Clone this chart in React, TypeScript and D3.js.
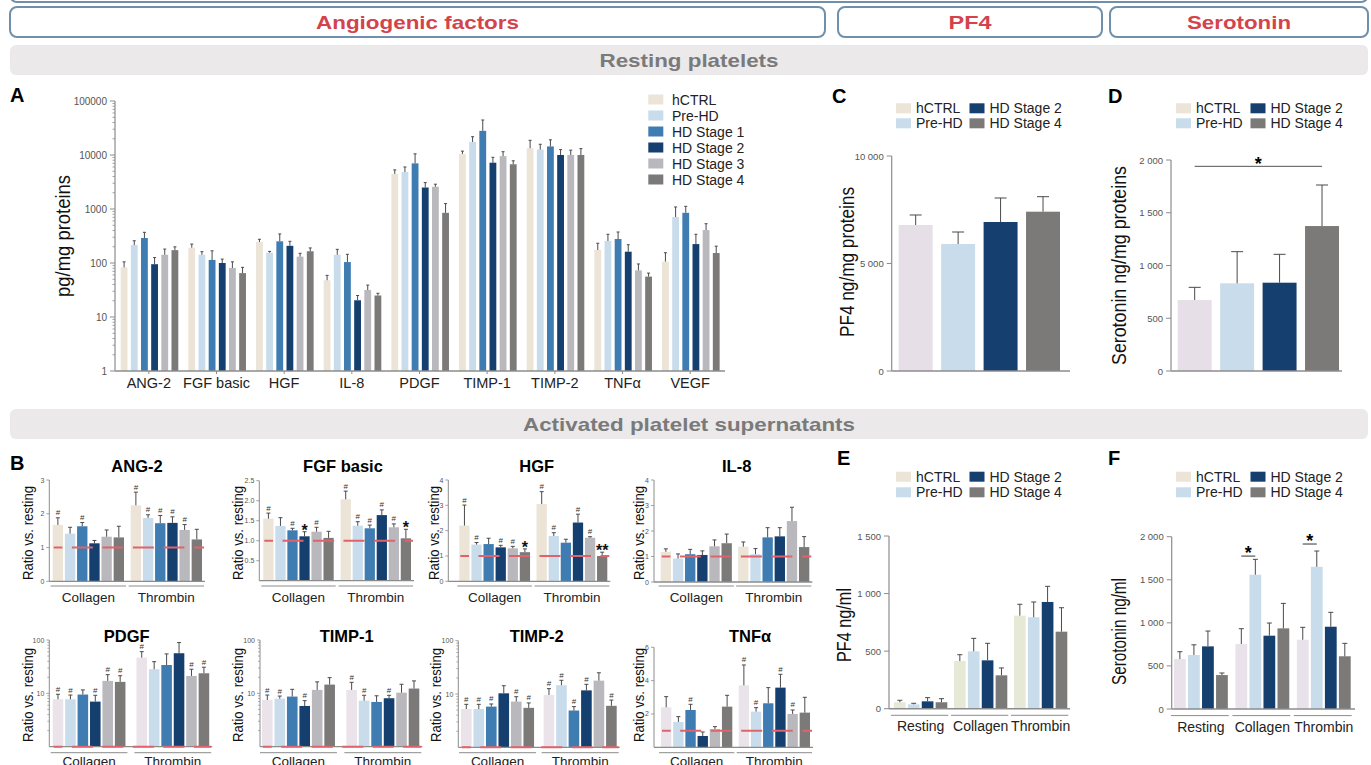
import React from "react";
import * as d3 from "d3";

const FONT = "'Liberation Sans', Arial, Helvetica, sans-serif";
const AXIS = "#8c8c8c";
const TICKTXT = "#555";
const ERR = "#4a4a4a";
const RED = "#e0636b";

// ---------- DATA ----------
const seriesAll = ["hCTRL", "Pre-HD", "HD Stage 1", "HD Stage 2", "HD Stage 3", "HD Stage 4"];
const series4 = ["hCTRL", "Pre-HD", "HD Stage 2", "HD Stage 4"];

// Panel A (resting platelets, pg/mg proteins, log)
const factorsA = ["ANG-2", "FGF basic", "HGF", "IL-8", "PDGF", "TIMP-1", "TIMP-2", "TNFα", "VEGF"];
const ticksA = [1, 10, 100, 1000, 10000, 100000];
const restingMeanA = [
  [83, 215, 290, 95, 142, 173],
  [192, 142, 114, 100, 81, 65],
  [245, 155, 252, 208, 131, 165],
  [48, 142, 104, 20.4, 31.6, 25],
  [4450, 4840, 7000, 2500, 2580, 850],
  [10450, 17400, 28000, 7200, 9530, 6740],
  [13300, 12600, 14400, 10000, 10000, 10000],
  [174, 255, 278, 162, 73, 56],
  [106, 710, 850, 224, 407, 153],
];
const restingErrA = [
  [105, 258, 370, 126, 181, 199],
  [224, 162, 168, 118, 105, 83],
  [275, 164, 345, 252, 151, 190],
  [59, 179, 145, 25, 39, 27.5],
  [5300, 6000, 10500, 3080, 2880, 1260],
  [11800, 21800, 44500, 9070, 11500, 7800],
  [18700, 15800, 19100, 12600, 12300, 13100],
  [232, 340, 375, 218, 96, 65],
  [155, 1090, 1120, 340, 534, 205],
];

// Panel C / D
const pf4Resting = [6790, 5907, 6930, 7410];
const pf4RestingErr = [7256, 6465, 8047, 8107];
const pf4Ticks = [0, 5000, 10000];
const seroResting = [673, 831, 837, 1374];
const seroRestingErr = [793, 1131, 1106, 1763];
const seroTicks = [0, 500, 1000, 1500, 2000];
const seroRestingSigLevel = 1940;

// Panel E / F
const conditionsEF = ["Resting", "Collagen", "Thrombin"];
const pf4ActMean = [[56, 38, 64, 56], [414, 498, 420, 290], [808, 794, 927, 669]];
const pf4ActErr = [[73, 47, 96, 87], [469, 611, 568, 354], [907, 927, 1063, 877]];
const pf4ActTicks = [0, 500, 1000, 1500];
const seroActMean = [[580, 627, 727, 394], [754, 1559, 851, 936], [804, 1651, 955, 612]];
const seroActErr = [[665, 745, 905, 418], [932, 1737, 998, 1226], [948, 1834, 1122, 762]];
const seroActTicks = [0, 500, 1000, 1500, 2000];
const seroActSig = ["", "*", "*"];
const seroActSigLevel = [0, 1775, 1915];

// Panel B (ratio vs resting)
const stimuli = ["Collagen", "Thrombin"];
const ratioFactors = ["ANG-2", "FGF basic", "HGF", "IL-8", "PDGF", "TIMP-1", "TIMP-2", "TNFα"];
const ratioCollagenMean = [
  [1.67, 1.41, 1.63, 1.125, 1.32, 1.3],
  [1.55, 1.37, 1.26, 1.11, 1.225, 1.07],
  [2.2, 1.45, 1.47, 1.34, 1.3, 1.15],
  [1.18, 0.92, 1.09, 1.06, 1.4, 1.52],
  [7.75, 7.75, 9.5, 7.0, 17.1, 16.4],
  [7.5, 7.95, 8.7, 5.8, 11.6, 14.6],
  [5.23, 5.23, 5.8, 10.3, 7.2, 5.5],
  [2.4, 1.52, 2.24, 0.68, 1.1, 2.44],
];
const ratioCollagenErr = [
  [1.88, 1.6, 1.74, 1.21, 1.52, 1.63],
  [1.69, 1.575, 1.31, 1.225, 1.335, 1.235],
  [3.01, 1.53, 1.7, 1.42, 1.38, 1.28],
  [1.3, 1.1, 1.28, 1.22, 1.65, 1.88],
  [9.6, 9.3, 11.6, 9.2, 22.4, 21.4],
  [9.3, 8.9, 11.9, 7.3, 16.4, 19.7],
  [6.4, 6.4, 6.5, 14.3, 8.9, 6.8],
  [3.04, 1.84, 2.58, 0.92, 1.24, 3.12],
];
const ratioThrombinMean = [
  [2.25, 1.875, 1.72, 1.73, 1.52, 1.24],
  [2.035, 1.375, 1.31, 1.64, 1.335, 1.06],
  [3.05, 1.79, 1.525, 2.32, 1.72, 1.0],
  [1.385, 1.09, 1.75, 1.79, 2.39, 1.37],
  [46.7, 28.3, 34, 56.5, 21.2, 23.8],
  [11.6, 7.3, 6.9, 8.1, 10.3, 12.3],
  [9.6, 14.6, 4.9, 11.7, 17.8, 6.0],
  [3.72, 2.14, 2.64, 3.58, 2.0, 2.08],
];
const ratioThrombinErr = [
  [2.64, 1.97, 1.95, 1.91, 1.68, 1.54],
  [2.24, 1.475, 1.39, 1.77, 1.42, 1.285],
  [3.54, 1.92, 1.66, 2.65, 1.76, 1.15],
  [1.57, 1.31, 2.13, 2.13, 2.93, 1.78],
  [60.5, 39.2, 54.8, 89.5, 28.3, 30.9],
  [16.1, 9.2, 9.0, 9.2, 14.8, 17.1],
  [12.6, 18.1, 5.8, 15.2, 25, 7.7],
  [4.94, 2.38, 3.58, 4.38, 2.24, 3.0],
];
const ratioCollagenMarks = [
  ["#", "", "#", "", "", ""],
  ["#", "", "#", "*", "#", ""],
  ["#", "#", "", "#", "#", "*"],
  ["", "", "", "", "", ""],
  ["#", "#", "", "#", "#", "#"],
  ["#", "#", "", "#", "", ""],
  ["#", "#", "#", "", "#", "#"],
  ["", "", "#", "", "", ""],
];
const ratioThrombinMarks = [
  ["#", "#", "#", "#", "#", ""],
  ["#", "#", "#", "#", "#", "*"],
  ["#", "#", "", "#", "#", "**"],
  ["", "", "", "", "", ""],
  ["#", "", "", "", "#", "#"],
  ["#", "#", "", "#", "", ""],
  ["#", "#", "#", "#", "", "#"],
  ["#", "#", "", "#", "#", ""],
];
const ratioTicks = [
  [0, 1, 2, 3],
  [0.5, 1, 1.5, 2, 2.5],
  [0, 1, 2, 3, 4],
  [0, 1, 2, 3, 4],
  [10, 100],
  [10, 100],
  [10, 100],
  [2, 4, 6],
];

// ---------- STYLE / LAYOUT ----------
const COLORS: Record<string, string> = {
  hCTRL: "#ebe4d7",
  "Pre-HD": "#c8dcec",
  "HD Stage 1": "#3e7cb1",
  "HD Stage 2": "#153f6f",
  "HD Stage 3": "#b9b8bc",
  "HD Stage 4": "#7c7979",
};
const colorOf = (s: string, hctrl?: string) => (s === "hCTRL" && hctrl ? hctrl : COLORS[s]);

const spaceFmt = d3.formatLocale({ decimal: ".", thousands: " ", grouping: [3], currency: ["", ""] }).format(",");

const ratioLayout = [
  { axisX: 49.3, x0: 52.7, x1: 202, gap: 6.7, yTop: 480, y0: 581.3, max: 3, log: false, titleX: 137, labelX: 27, row: 0, fmt: "d" },
  { axisX: 259.3, x0: 263.3, x1: 411, gap: 6.9, yTop: 480.7, y0: 580.7, max: 2.5, log: false, titleX: 343, labelX: 237, row: 0, fmt: ".1f" },
  { axisX: 448.3, x0: 459.3, x1: 607.3, gap: 6.5, yTop: 480, y0: 581.3, max: 4, log: false, titleX: 536.7, labelX: 433, row: 0, fmt: "d" },
  { axisX: 654, x0: 660.7, x1: 809.3, gap: 6.3, yTop: 480, y0: 582, max: 4, log: false, titleX: 736.7, labelX: 638, row: 0, fmt: "d" },
  { axisX: 49.3, x0: 52.7, x1: 209.2, gap: 11, yTop: 640, y0: 746.7, max: 100, log: true, titleX: 126.7, labelX: 27, row: 1, fmt: "d" },
  { axisX: 260, x0: 262, x1: 419.3, gap: 11.4, yTop: 640, y0: 746.7, max: 100, log: true, titleX: 346.7, labelX: 237, row: 1, fmt: "d" },
  { axisX: 458.3, x0: 461, x1: 616.7, gap: 9.6, yTop: 640.7, y0: 747.3, max: 100, log: true, titleX: 536.7, labelX: 435, row: 1, fmt: "d" },
  { axisX: 654, x0: 661, x1: 810, gap: 6.4, yTop: 647.3, y0: 747.3, max: 6, log: false, titleX: 750, labelX: 638, row: 1, fmt: "d" },
];
const rowStyle = [
  { titleY: 471.7, underlineY: 586, groupLabelY: 601.5, ylabelY: 533, hctrl: "#ece4d6" },
  { titleY: 641.7, underlineY: 752.7, groupLabelY: 766, ylabelY: 695, hctrl: "#ebe3ea" },
];

// ---------- HELPERS ----------
function ErrBar({ x, yFrom, yTo, cap = 3 }: { x: number; yFrom: number; yTo: number; cap?: number }) {
  return (
    <g stroke={ERR} strokeWidth={1}>
      <line x1={x} x2={x} y1={yFrom} y2={yTo} />
      <line x1={x - cap / 2} x2={x + cap / 2} y1={yTo} y2={yTo} />
    </g>
  );
}

function RotLabel({ x, y, text, size, length }: { x: number; y: number; text: string; size: number; length: number }) {
  return (
    <text
      transform={`translate(${x},${y}) rotate(-90)`}
      textAnchor="middle"
      dominantBaseline="central"
      fontSize={size}
      textLength={length}
      lengthAdjust="spacingAndGlyphs"
      fill="#111"
    >
      {text}
    </text>
  );
}

function Legend4({ x1, x2, yRow1, yRow2 }: { x1: number; x2: number; yRow1: number; yRow2: number }) {
  const pos = [
    [x1, yRow1],
    [x1, yRow2],
    [x2, yRow1],
    [x2, yRow2],
  ];
  return (
    <g>
      {series4.map((s, i) => (
        <g key={s}>
          <rect x={pos[i][0]} y={pos[i][1] - 5} width={15} height={10} fill={COLORS[s]} />
          <text x={pos[i][0] + 20} y={pos[i][1] + 5} fontSize={14} fill="#222">
            {s}
          </text>
        </g>
      ))}
    </g>
  );
}

// ---------- HEADER ----------
function Header() {
  const boxes = [
    { x0: 10, x1: 825, label: "Angiogenic factors", len: 203 },
    { x0: 838, x1: 1102, label: "PF4", len: 43 },
    { x0: 1110, x1: 1368, label: "Serotonin", len: 104 },
  ];
  const bands = [
    { y: 45, label: "Resting platelets", len: 179 },
    { y: 409, label: "Activated platelet supernatants", len: 332 },
  ];
  return (
    <g>
      <rect x={10} y={-26} width={1358} height={28} rx={7} fill="none" stroke="#6f8fab" strokeWidth={2} />
      {boxes.map((b) => (
        <g key={b.label}>
          <rect x={b.x0} y={7} width={b.x1 - b.x0} height={30} rx={7} fill="#fff" stroke="#6f8fab" strokeWidth={2} />
          <text
            x={(b.x0 + b.x1) / 2}
            y={29}
            textAnchor="middle"
            fontSize={19}
            fontWeight="bold"
            fill="#d4434c"
            textLength={b.len}
            lengthAdjust="spacingAndGlyphs"
          >
            {b.label}
          </text>
        </g>
      ))}
      {bands.map((b) => (
        <g key={b.label}>
          <rect x={10} y={b.y} width={1358} height={30} rx={6} fill="#ebe9ea" />
          <text
            x={689}
            y={b.y + 22}
            textAnchor="middle"
            fontSize={19}
            fontWeight="bold"
            fill="#7a7a7a"
            textLength={b.len}
            lengthAdjust="spacingAndGlyphs"
          >
            {b.label}
          </text>
        </g>
      ))}
    </g>
  );
}

// ---------- PANEL A ----------
function PanelA() {
  const axisX = 115;
  const y0 = 371;
  const y = d3.scaleLog().domain([1, 100000]).range([y0, 101]);
  const xg = d3.scaleBand<string>().domain(factorsA).range([115, 724]).padding(0);
  const xi = d3.scaleBand<string>().domain(seriesAll).range([5.7, 63.3]).paddingInner(0.33).paddingOuter(0);
  const minor: number[] = [];
  for (let d = 1; d < 100000; d *= 10) for (let k = 2; k <= 9; k++) minor.push(d * k);
  return (
    <g>
      <text x={10} y={102} fontSize={20} fontWeight="bold">A</text>
      <RotLabel x={62.5} y={236} text="pg/mg proteins" size={21} length={122} />
      {restingMeanA.map((row, i) =>
        row.map((v, j) => {
          const s = seriesAll[j];
          const x = (xg(factorsA[i]) as number) + (xi(s) as number);
          return <rect key={`${i}-${j}`} x={x} y={y(v)} width={xi.bandwidth()} height={y0 - y(v)} fill={colorOf(s)} />;
        })
      )}
      {restingErrA.map((row, i) =>
        row.map((e, j) => {
          const s = seriesAll[j];
          const cx = (xg(factorsA[i]) as number) + (xi(s) as number) + xi.bandwidth() / 2;
          return <ErrBar key={`e${i}-${j}`} x={cx} yFrom={y(restingMeanA[i][j])} yTo={y(e)} cap={3} />;
        })
      )}
      <line x1={axisX} x2={axisX} y1={y(100000)} y2={y0} stroke={AXIS} strokeWidth={1.2} />
      <line x1={axisX} x2={725} y1={y0} y2={y0} stroke={AXIS} strokeWidth={1.5} />
      {minor.map((m) => (
        <line key={m} x1={axisX - 2.5} x2={axisX} y1={y(m)} y2={y(m)} stroke={AXIS} strokeWidth={0.8} />
      ))}
      {ticksA.map((t) => (
        <g key={t}>
          <line x1={axisX - 5} x2={axisX} y1={y(t)} y2={y(t)} stroke={AXIS} strokeWidth={1} />
          <text x={axisX - 8} y={y(t) + 3.5} fontSize={10} textAnchor="end" fill={TICKTXT}>
            {d3.format("d")(t)}
          </text>
        </g>
      ))}
      {factorsA.map((f) => {
        const cx = (xg(f) as number) + xg.bandwidth() / 2;
        return (
          <g key={f}>
            <line x1={cx} x2={cx} y1={y0} y2={y0 + 3} stroke={AXIS} />
            <text x={cx} y={y0 + 17} fontSize={14.5} textAnchor="middle" fill="#222">
              {f}
            </text>
          </g>
        );
      })}
      {seriesAll.map((s, j) => (
        <g key={s}>
          <rect x={648.3} y={94.5 + j * 16} width={15} height={10} fill={COLORS[s]} />
          <text x={672} y={104.5 + j * 16} fontSize={14} fill="#222">
            {s}
          </text>
        </g>
      ))}
    </g>
  );
}

// ---------- PANELS C / D ----------
function SimpleBars(props: {
  letter: string; letterX: number; axisX: number; axisEnd: number; yTop: number; y0: number; max: number;
  ticks: number[]; means: number[]; errs: number[]; barX0: number; barX1: number; hctrl: string;
  ylabel: string; ylabelX: number; ylabelY: number; ylabelLen: number; legX1: number; legX2: number; sigLevel?: number;
}) {
  const p = props;
  const y = d3.scaleLinear().domain([0, p.max]).range([p.y0, p.yTop]);
  const x = d3.scaleBand<string>().domain(series4).range([p.barX0, p.barX1]).paddingInner(0.2).paddingOuter(0);
  return (
    <g>
      <text x={p.letterX} y={103} fontSize={20} fontWeight="bold">{p.letter}</text>
      <Legend4 x1={p.legX1} x2={p.legX2} yRow1={108.3} yRow2={123.3} />
      <RotLabel x={p.ylabelX} y={p.ylabelY} text={p.ylabel} size={21} length={p.ylabelLen} />
      {p.means.map((v, i) => (
        <rect key={i} x={x(series4[i])} y={y(v)} width={x.bandwidth()} height={p.y0 - y(v)} fill={colorOf(series4[i], p.hctrl)} />
      ))}
      {p.errs.map((e, i) => (
        <ErrBar key={i} x={(x(series4[i]) as number) + x.bandwidth() / 2} yFrom={y(p.means[i])} yTo={y(e)} cap={12} />
      ))}
      <line x1={p.axisX} x2={p.axisX} y1={p.yTop} y2={p.y0} stroke={AXIS} strokeWidth={1.2} />
      <line x1={p.axisX} x2={p.axisEnd} y1={p.y0} y2={p.y0} stroke={AXIS} strokeWidth={1.5} />
      {p.ticks.map((t) => (
        <g key={t}>
          <line x1={p.axisX - 5} x2={p.axisX} y1={y(t)} y2={y(t)} stroke={AXIS} />
          <text x={p.axisX - 8} y={y(t) + 3.5} fontSize={9.5} textAnchor="end" fill={TICKTXT}>
            {spaceFmt(t)}
          </text>
        </g>
      ))}
      {p.sigLevel !== undefined && (
        <g>
          <line
            x1={(x(series4[0]) as number) + x.bandwidth() / 2}
            x2={(x(series4[3]) as number) + x.bandwidth() / 2}
            y1={y(p.sigLevel)}
            y2={y(p.sigLevel)}
            stroke="#555"
            strokeWidth={1}
          />
          <text
            x={((x(series4[0]) as number) + (x(series4[3]) as number) + x.bandwidth()) / 2}
            y={y(p.sigLevel) + 4}
            fontSize={18}
            fontWeight="bold"
            textAnchor="middle"
          >
            *
          </text>
        </g>
      )}
    </g>
  );
}

// ---------- PANELS E / F ----------
function GroupedBars(props: {
  letter: string; letterX: number; axisX: number; axisEnd: number; yTop: number; y0: number; max: number;
  ticks: number[]; means: number[][]; errs: number[][]; x0: number; x1: number; gap: number; hctrl: string;
  ylabel: string; ylabelX: number; ylabelY: number; ylabelLen: number; legX1: number; legX2: number;
  sig?: string[]; sigLevel?: number[];
}) {
  const p = props;
  const y = d3.scaleLinear().domain([0, p.max]).range([p.y0, p.yTop]);
  const step = (p.x1 - p.x0 + p.gap) / 3;
  const xg = d3.scaleBand<string>().domain(conditionsEF).range([p.x0, p.x1]).paddingInner(p.gap / step).paddingOuter(0);
  const xi = d3.scaleBand<string>().domain(series4).range([0, xg.bandwidth()]).paddingInner(0.16).paddingOuter(0);
  return (
    <g>
      <text x={p.letterX} y={465} fontSize={20} fontWeight="bold">{p.letter}</text>
      <Legend4 x1={p.legX1} x2={p.legX2} yRow1={476.7} yRow2={492.3} />
      <RotLabel x={p.ylabelX} y={p.ylabelY} text={p.ylabel} size={21} length={p.ylabelLen} />
      {p.means.map((row, g) =>
        row.map((v, i) => (
          <rect
            key={`${g}-${i}`}
            x={(xg(conditionsEF[g]) as number) + (xi(series4[i]) as number)}
            y={y(v)}
            width={xi.bandwidth()}
            height={p.y0 - y(v)}
            fill={colorOf(series4[i], p.hctrl)}
          />
        ))
      )}
      {p.errs.map((row, g) =>
        row.map((e, i) => (
          <ErrBar
            key={`${g}-${i}`}
            x={(xg(conditionsEF[g]) as number) + (xi(series4[i]) as number) + xi.bandwidth() / 2}
            yFrom={y(p.means[g][i])}
            yTo={y(e)}
            cap={5}
          />
        ))
      )}
      <line x1={p.axisX} x2={p.axisX} y1={p.yTop} y2={p.y0} stroke={AXIS} strokeWidth={1.2} />
      <line x1={p.axisX} x2={p.axisEnd} y1={p.y0} y2={p.y0} stroke={AXIS} strokeWidth={1.5} />
      {p.ticks.map((t) => (
        <g key={t}>
          <line x1={p.axisX - 5} x2={p.axisX} y1={y(t)} y2={y(t)} stroke={AXIS} />
          <text x={p.axisX - 8} y={y(t) + 3.5} fontSize={9.5} textAnchor="end" fill={TICKTXT}>
            {spaceFmt(t)}
          </text>
        </g>
      ))}
      {conditionsEF.map((c) => {
        const gx = xg(c) as number;
        return (
          <g key={c}>
            <line x1={gx - 3} x2={gx + xg.bandwidth() + 1} y1={p.y0 + 6.6} y2={p.y0 + 6.6} stroke={AXIS} strokeWidth={1} />
            <text x={gx + xg.bandwidth() / 2} y={p.y0 + 22.5} fontSize={14} textAnchor="middle" fill="#222">
              {c}
            </text>
          </g>
        );
      })}
      {p.sig &&
        p.sig.map((s, g) => {
          if (!s || !p.sigLevel) return null;
          const gx = xg(conditionsEF[g]) as number;
          const a = gx + (xi(series4[0]) as number) + xi.bandwidth() / 2;
          const b = gx + (xi(series4[1]) as number) + xi.bandwidth() / 2;
          const ly = y(p.sigLevel[g]);
          return (
            <g key={g}>
              <line x1={a} x2={b} y1={ly} y2={ly} stroke="#333" strokeWidth={1} />
              <text x={(a + b) / 2} y={ly + 3} fontSize={18} fontWeight="bold" textAnchor="middle">
                {s}
              </text>
            </g>
          );
        })}
    </g>
  );
}

// ---------- PANEL B ----------
function RatioPanel({ idx }: { idx: number }) {
  const L = ratioLayout[idx];
  const R = rowStyle[L.row];
  const y = L.log
    ? d3.scaleLog().domain([1, 100]).range([L.y0, L.yTop])
    : d3.scaleLinear().domain([0, L.max]).range([L.y0, L.yTop]);
  const base = L.log ? 1 : 0;
  const step = (L.x1 - L.x0 + L.gap) / 2;
  const xg = d3.scaleBand<string>().domain(stimuli).range([L.x0, L.x1]).paddingInner(L.gap / step).paddingOuter(0);
  const xi = d3.scaleBand<string>().domain(seriesAll).range([0, xg.bandwidth()]).paddingInner(0.15).paddingOuter(0);
  const groups = [
    { stim: stimuli[0], means: ratioCollagenMean[idx], errs: ratioCollagenErr[idx], marks: ratioCollagenMarks[idx] },
    { stim: stimuli[1], means: ratioThrombinMean[idx], errs: ratioThrombinErr[idx], marks: ratioThrombinMarks[idx] },
  ];
  const minor: number[] = [];
  if (L.log) for (let d = 1; d < 100; d *= 10) for (let k = 2; k <= 9; k++) minor.push(d * k);
  const fmt = d3.format(L.fmt);
  const redY = y(1);
  return (
    <g>
      <text x={L.titleX} y={R.titleY} fontSize={16.5} fontWeight="bold" textAnchor="middle">
        {ratioFactors[idx]}
      </text>
      <RotLabel x={L.labelX} y={R.ylabelY} text="Ratio vs. resting" size={15.5} length={94} />
      {groups.map((g) =>
        g.means.map((v, j) => (
          <rect
            key={`${g.stim}-${j}`}
            x={(xg(g.stim) as number) + (xi(seriesAll[j]) as number)}
            y={y(v)}
            width={xi.bandwidth()}
            height={y(base) - y(v)}
            fill={colorOf(seriesAll[j], R.hctrl)}
          />
        ))
      )}
      {groups.map((g) =>
        g.errs.map((e, j) => (
          <ErrBar
            key={`e${g.stim}-${j}`}
            x={(xg(g.stim) as number) + (xi(seriesAll[j]) as number) + xi.bandwidth() / 2}
            yFrom={y(g.means[j])}
            yTo={y(e)}
            cap={4}
          />
        ))
      )}
      <line x1={L.axisX} x2={L.axisX} y1={L.yTop} y2={L.y0} stroke={AXIS} strokeWidth={1} />
      <line x1={L.axisX} x2={L.x1 + 3} y1={L.y0} y2={L.y0} stroke={AXIS} strokeWidth={1.3} />
      {minor.map((m) => (
        <line key={m} x1={L.axisX - 2} x2={L.axisX} y1={y(m)} y2={y(m)} stroke={AXIS} strokeWidth={0.7} />
      ))}
      {ratioTicks[idx].map((t) => (
        <g key={t}>
          <line x1={L.axisX - 3} x2={L.axisX} y1={y(t)} y2={y(t)} stroke={AXIS} strokeWidth={0.8} />
          <text x={L.axisX - 5} y={y(t) + 2.5} fontSize={7} textAnchor="end" fill={TICKTXT}>
            {fmt(t)}
          </text>
        </g>
      ))}
      <line
        x1={L.x0 + 1}
        x2={L.x1 + 2}
        y1={redY}
        y2={redY}
        stroke={RED}
        strokeWidth={2}
        strokeDasharray="21 9.5"
        strokeDashoffset={12.3}
      />
      {groups.map((g) =>
        g.marks.map((m, j) => {
          if (!m) return null;
          const cx = (xg(g.stim) as number) + (xi(seriesAll[j]) as number) + xi.bandwidth() / 2;
          const ey = y(g.errs[j]);
          return m === "#" ? (
            <text key={`m${g.stim}-${j}`} x={cx} y={ey - 2.5} fontSize={8} textAnchor="middle" fill="#333">
              #
            </text>
          ) : (
            <text key={`m${g.stim}-${j}`} x={cx} y={ey + 4} fontSize={16} fontWeight="bold" textAnchor="middle" fill="#111">
              {m}
            </text>
          );
        })
      )}
      {stimuli.map((s) => {
        const gx = xg(s) as number;
        return (
          <g key={s}>
            <line x1={gx - 2} x2={gx + xg.bandwidth() + 2} y1={R.underlineY} y2={R.underlineY} stroke={AXIS} strokeWidth={1} />
            <text x={gx + xg.bandwidth() / 2} y={R.groupLabelY} fontSize={13.5} textAnchor="middle" fill="#222">
              {s}
            </text>
          </g>
        );
      })}
    </g>
  );
}

export default function App() {
  return (
    <svg
      width={1371}
      height={765}
      style={{ position: "absolute", left: 0, top: 0, background: "#fff" }}
      fontFamily={FONT}
    >
      <rect width={1371} height={765} fill="#fff" />
      <Header />
      <PanelA />
      <SimpleBars
        letter="C" letterX={832} axisX={891.7} axisEnd={1070} yTop={156} y0={371} max={10000}
        ticks={pf4Ticks} means={pf4Resting} errs={pf4RestingErr} barX0={898.7} barX1={1060} hctrl="#e6dfe8"
        ylabel="PF4 ng/mg proteins" ylabelX={846} ylabelY={262} ylabelLen={150} legX1={896} legX2={969.5}
      />
      <SimpleBars
        letter="D" letterX={1108} axisX={1171} axisEnd={1342} yTop={160} y0={371} max={2000}
        ticks={seroTicks} means={seroResting} errs={seroRestingErr} barX0={1177.7} barX1={1339} hctrl="#e6dfe8"
        ylabel="Serotonin ng/mg proteins" ylabelX={1118} ylabelY={265.5} ylabelLen={199} legX1={1176} legX2={1250.5}
        sigLevel={seroRestingSigLevel}
      />
      <text x={10} y={470} fontSize={20} fontWeight="bold">B</text>
      {ratioFactors.map((_, i) => (
        <RatioPanel key={i} idx={i} />
      ))}
      <GroupedBars
        letter="E" letterX={837} axisX={889} axisEnd={1070} yTop={536} y0={708.7} max={1500}
        ticks={pf4ActTicks} means={pf4ActMean} errs={pf4ActErr} x0={894} x1={1067.3} gap={6.7} hctrl="#e5e9d5"
        ylabel="PF4 ng/ml" ylabelX={843} ylabelY={625} ylabelLen={74} legX1={896} legX2={969.5}
      />
      <GroupedBars
        letter="F" letterX={1108} axisX={1171.7} axisEnd={1355} yTop={536.7} y0={709} max={2000}
        ticks={seroActTicks} means={seroActMean} errs={seroActErr} x0={1174} x1={1350.7} gap={7.6} hctrl="#e9e2ea"
        ylabel="Serotonin ng/ml" ylabelX={1118} ylabelY={631.5} ylabelLen={107} legX1={1176} legX2={1250.5}
        sig={seroActSig} sigLevel={seroActSigLevel}
      />
    </svg>
  );
}
